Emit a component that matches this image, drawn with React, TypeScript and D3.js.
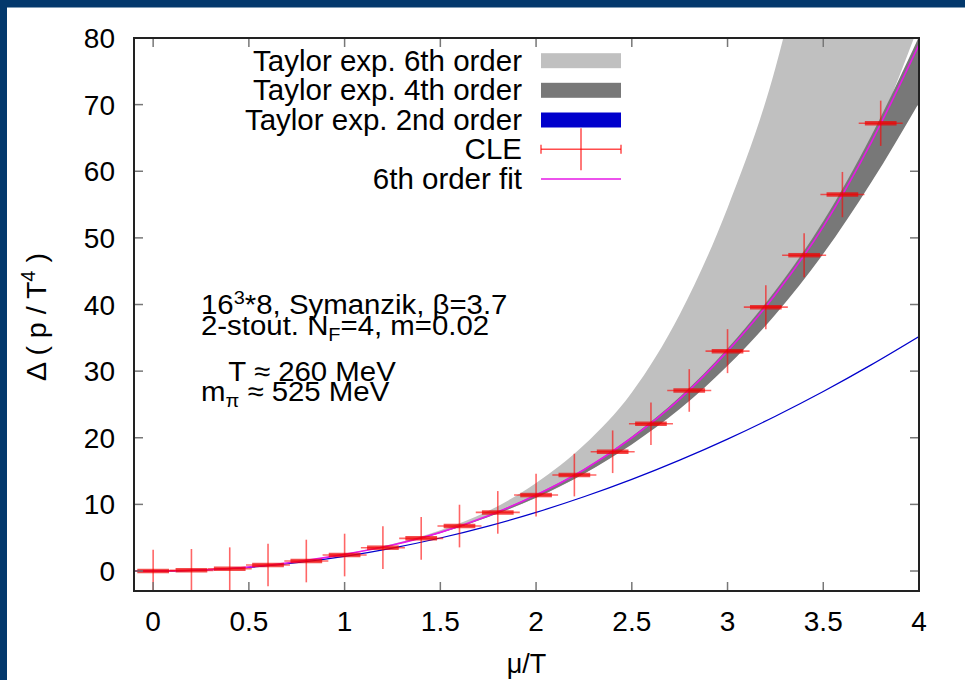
import * as d3 from "d3";

// CLE data points (mu/T, delta p/T^4, errors)
const cleX = [0, 0.2, 0.4, 0.6, 0.8, 1.0, 1.2, 1.4, 1.6, 1.8, 2.0, 2.2, 2.4, 2.6, 2.8, 3.0, 3.2, 3.4, 3.6, 3.8];
const cleY = [0, 0.1, 0.35, 0.9, 1.5, 2.4, 3.5, 4.9, 6.75, 8.8, 11.4, 14.4, 17.9, 22.1, 27.1, 33.0, 39.6, 47.4, 56.5, 67.2];
const cleYErr = [3.2, 3.2, 3.2, 3.2, 3.2, 3.2, 3.2, 3.2, 3.2, 3.2, 3.2, 3.2, 3.2, 3.2, 3.2, 3.3, 3.3, 3.3, 3.4, 3.4];
const cleXErr = [0.115, 0.115, 0.115, 0.115, 0.115, 0.115, 0.115, 0.115, 0.115, 0.115, 0.115, 0.115, 0.115, 0.115, 0.115, 0.115, 0.115, 0.115, 0.115, 0.115];

// curves, sampled along mu/T
const curveX = [-0.25, 0, 0.25, 0.5, 0.75, 1.0, 1.25, 1.5, 1.75, 2.0, 2.25, 2.5, 2.75, 3.0, 3.25, 3.5, 3.75, 4.0];
const taylor2 = [0.14, 0, 0.14, 0.55, 1.24, 2.2, 3.44, 4.95, 6.74, 8.8, 11.14, 13.75, 16.64, 19.8, 23.24, 26.95, 30.94, 35.2];
const fit6 = [0.15, 0, 0.15, 0.6, 1.4, 2.5, 3.9, 5.8, 8.3, 11.4, 15.2, 20.0, 25.8, 33.0, 41.5, 51.7, 64.3, 79.0];
const taylor4Lo = [0.15, 0, 0.15, 0.6, 1.4, 2.5, 3.85, 5.7, 8.1, 11.0, 14.6, 19.0, 24.3, 30.8, 38.5, 47.6, 58.3, 70.3];
const taylor4Hi = [0.15, 0, 0.15, 0.6, 1.4, 2.5, 3.9, 5.8, 8.35, 11.5, 15.3, 20.2, 26.1, 33.4, 42.1, 52.5, 65.3, 80.2];
const taylor6Lo = [0.15, 0, 0.15, 0.6, 1.4, 2.5, 3.85, 5.7, 8.1, 11.0, 14.6, 19.2, 24.9, 32.2, 40.9, 51.3, 64.2, 82.0];
const taylor6Hi = [0.15, 0, 0.15, 0.6, 1.4, 2.55, 4.05, 6.1, 9.0, 13.2, 18.9, 26.8, 38.5, 54.5, 75.5, 107, 147, 202];

// axes
const xTicks = [0, 0.5, 1, 1.5, 2, 2.5, 3, 3.5, 4];
const yTicks = [0, 10, 20, 30, 40, 50, 60, 70, 80];

const legendLabels = ["Taylor exp. 6th order", "Taylor exp. 4th order", "Taylor exp. 2nd order", "CLE", "6th order fit"];

const FONT = "'Liberation Sans', Arial, Helvetica, sans-serif";

export default function App() {
  const left = 134, right = 919, top = 38, bottom = 591;
  const x = d3.scaleLinear().domain([-0.1, 4]).range([left, right]);
  const y = d3.scaleLinear().domain([-3, 80]).range([bottom, top]);

  const band = (lo: number[], hi: number[]) =>
    d3.area<number>()
      .x((d) => x(d))
      .y0((d, i) => y(lo[i]))
      .y1((d, i) => y(hi[i]))
      .curve(d3.curveMonotoneX)(curveX) || "";

  const line = (vals: number[]) =>
    d3.line<number>()
      .x((d) => x(d))
      .y((d, i) => y(vals[i]))
      .curve(d3.curveMonotoneX)(curveX) || "";

  const legRowY = [60.7, 90.3, 120, 149.3, 179];
  const legX0 = 541, legX1 = 621, legTextX = 522;

  return (
    <svg width={965} height={680} style={{ position: "absolute", left: 0, top: 0, background: "#fff" }} fontFamily={FONT}>
      <rect x={0} y={0} width={965} height={680} fill="#fff" />
      {/* dark frame on top and left */}
      <rect x={0} y={0} width={965} height={7.5} fill="#03386c" />
      <rect x={0} y={0} width={7} height={680} fill="#03386c" />

      <defs>
        <clipPath id="plotClip">
          <rect x={left} y={top} width={right - left} height={bottom - top} />
        </clipPath>
      </defs>

      <g clipPath="url(#plotClip)">
        <path d={band(taylor6Lo, taylor6Hi)} fill="#c0c0c0" />
        <path d={band(taylor4Lo, taylor4Hi)} fill="#787878" />
        <path d={line(taylor2)} fill="none" stroke="#0000cc" strokeWidth={1.2} />
        <path d={line(fit6)} fill="none" stroke="#e619e6" strokeWidth={1.6} />
        {cleX.map((cx, i) => {
          const px = x(cx), py = y(cleY[i]);
          return (
            <g key={i}>
              <line x1={px} x2={px} y1={y(cleY[i] - cleYErr[i])} y2={y(cleY[i] + cleYErr[i])} stroke="#ff0000" strokeOpacity={0.6} strokeWidth={1.6} />
              <line x1={x(cx - cleXErr[i])} x2={x(cx + cleXErr[i])} y1={py} y2={py} stroke="#ff0000" strokeOpacity={0.6} strokeWidth={1.6} />
              <line x1={x(cx - cleXErr[i] * 0.72)} x2={x(cx + cleXErr[i] * 0.72)} y1={py} y2={py} stroke="#ee0000" strokeOpacity={0.7} strokeWidth={4.5} />
            </g>
          );
        })}
      </g>

      {/* ticks */}
      {xTicks.map((t) => (
        <g key={"xt" + t} stroke="#777" strokeWidth={1.5}>
          <line x1={x(t)} x2={x(t)} y1={bottom} y2={bottom - 9} />
          <line x1={x(t)} x2={x(t)} y1={top} y2={top + 9} />
        </g>
      ))}
      {yTicks.map((t) => (
        <g key={"yt" + t} stroke="#777" strokeWidth={1.5}>
          <line x1={left} x2={left + 9} y1={y(t)} y2={y(t)} />
          <line x1={right} x2={right - 9} y1={y(t)} y2={y(t)} />
        </g>
      ))}
      <rect x={left} y={top} width={right - left} height={bottom - top} fill="none" stroke="#222" strokeWidth={2} />

      {/* tick labels */}
      {xTicks.map((t) => (
        <text key={"xl" + t} x={x(t)} y={631} textAnchor="middle" fontSize={28} fill="#000">{String(t)}</text>
      ))}
      {yTicks.map((t) => (
        <text key={"yl" + t} x={115} y={y(t) + 10} textAnchor="end" fontSize={28} fill="#000">{String(t)}</text>
      ))}

      {/* axis titles */}
      <text x={(left + right) / 2} y={673} textAnchor="middle" fontSize={27} fill="#000">μ/T</text>
      <text transform="translate(46,317) rotate(-90)" textAnchor="middle" fontSize={28.5} fill="#000">
        Δ ( p / T<tspan dy={-11} fontSize={20}>4</tspan><tspan dy={11}> )</tspan>
      </text>

      {/* annotation (slightly wide lettering, as in the original) */}
      <g transform="translate(201,0) scale(1.05,1)" fontSize={28} fill="#000">
        <text x={0} y={314}>16<tspan dy={-10} fontSize={19}>3</tspan><tspan dy={10}>*8, Symanzik, β=3.7</tspan></text>
        <text x={0} y={335}>2-stout. N<tspan dy={6} fontSize={19}>F</tspan><tspan dy={-6}>=4, m=0.02</tspan></text>
        <text x={26} y={381}>T ≈ 260 MeV</text>
        <text x={0} y={401}>m<tspan dy={6} fontSize={19}>π</tspan><tspan dy={-6}> ≈ 525 MeV</tspan></text>
      </g>

      {/* legend */}
      {legendLabels.map((lab, i) => (
        <text key={lab} x={legTextX} y={legRowY[i] + 10} textAnchor="end" fontSize={29.5} fill="#000">{lab}</text>
      ))}
      <rect x={legX0} y={legRowY[0] - 7.5} width={legX1 - legX0} height={15} fill="#c0c0c0" />
      <rect x={legX0} y={legRowY[1] - 7.5} width={legX1 - legX0} height={15} fill="#787878" />
      <rect x={legX0} y={legRowY[2] - 7.5} width={legX1 - legX0} height={15} fill="#0000cc" />
      <g stroke="#ff0000" strokeOpacity={0.7} strokeWidth={1.5}>
        <line x1={legX0} x2={legX1} y1={legRowY[3]} y2={legRowY[3]} />
        <line x1={legX0} x2={legX0} y1={legRowY[3] - 4.5} y2={legRowY[3] + 4.5} />
        <line x1={legX1} x2={legX1} y1={legRowY[3] - 4.5} y2={legRowY[3] + 4.5} />
        <line x1={(legX0 + legX1) / 2} x2={(legX0 + legX1) / 2} y1={legRowY[3] - 21} y2={legRowY[3] + 21} />
      </g>
      <line x1={legX0} x2={legX1} y1={legRowY[4]} y2={legRowY[4]} stroke="#e619e6" strokeWidth={1.6} />
    </svg>
  );
}
